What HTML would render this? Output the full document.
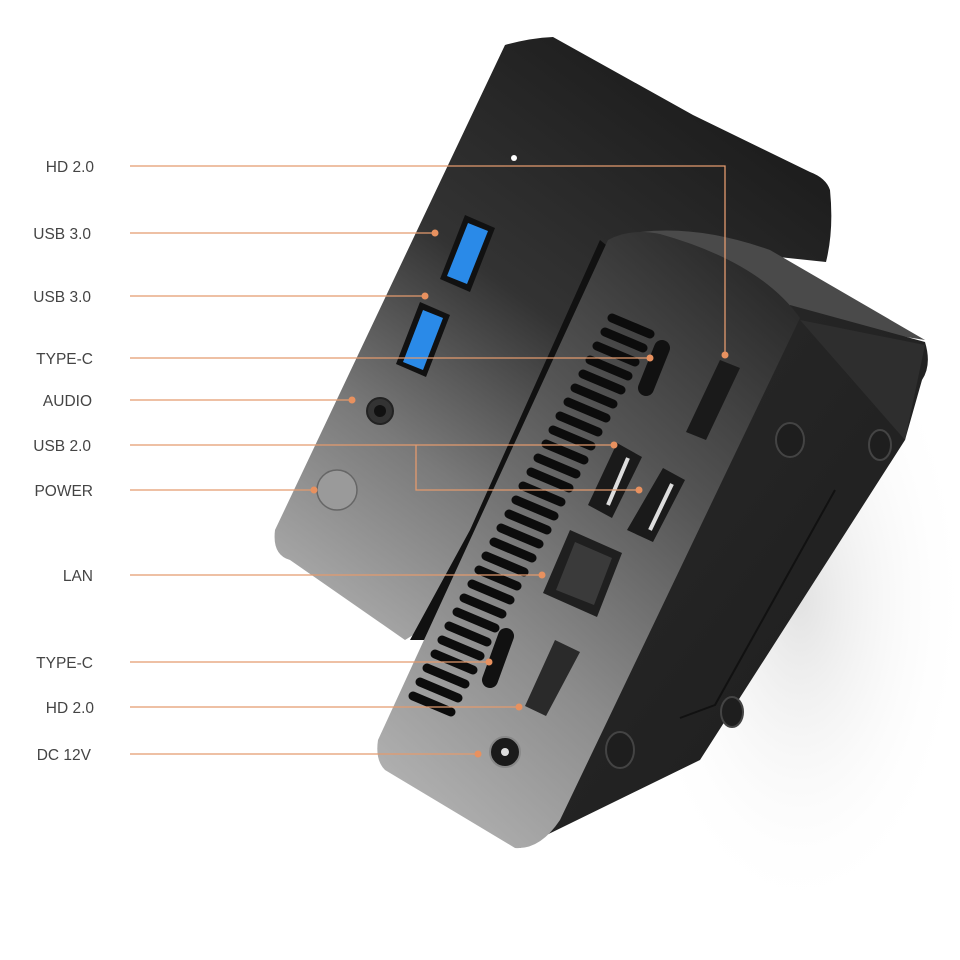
<!DOCTYPE html>
<html><head><meta charset="utf-8"><style>
html,body{margin:0;padding:0;background:#fff;width:960px;height:960px;overflow:hidden}
</style></head><body>
<svg width="960" height="960" viewBox="0 0 960 960" xmlns="http://www.w3.org/2000/svg">
<defs>
<linearGradient id="bk" x1="0.75" y1="0.05" x2="0.15" y2="0.95">
<stop offset="0" stop-color="#1c1c1c"/><stop offset="0.45" stop-color="#333"/><stop offset="0.75" stop-color="#7a7a7a"/><stop offset="1" stop-color="#a4a4a4"/></linearGradient>
<linearGradient id="fr" x1="0.8" y1="0" x2="0.2" y2="1">
<stop offset="0" stop-color="#2a2a2a"/><stop offset="0.35" stop-color="#555"/><stop offset="0.7" stop-color="#8c8c8c"/><stop offset="1" stop-color="#b0b0b0"/></linearGradient>
<linearGradient id="sd" x1="0" y1="0" x2="1" y2="1">
<stop offset="0" stop-color="#2a2a2a"/><stop offset="1" stop-color="#1c1c1c"/></linearGradient>
<radialGradient id="sh" cx="0.5" cy="0.5" r="0.5">
<stop offset="0" stop-color="#e2e2e2"/><stop offset="1" stop-color="#fff" stop-opacity="0"/></radialGradient>
</defs>
<ellipse cx="800" cy="600" rx="170" ry="320" fill="url(#sh)"/>
<!-- back device -->
<path d="M553,37 Q530,38 505,45 L275,530 Q272,555 290,560 L405,640 L470,600 L680,270 L760,255 L826,262 Q834,230 830,190 Q826,178 810,172 L693,115 Z" fill="url(#bk)"/>
<!-- dark band left of front device -->
<path d="M600,240 L470,530 L410,640 L440,640 L480,560 L612,250 Z" fill="#111"/>
<!-- front device top -->
<path d="M640,232 Q700,225 770,250 L925,340 L800,320 Q740,255 640,232 Z" fill="#4a4a4a"/>
<!-- right side -->
<path d="M790,305 L925,342 Q932,365 922,380 L905,440 L700,760 L520,848 L600,620 Z" fill="url(#sd)"/>
<path d="M800,320 L925,345 L905,440 Z" fill="#2e2e2e"/>
<path d="M835,490 L715,705 L680,718" stroke="#111" stroke-width="2" fill="none"/>
<!-- front face -->
<path d="M608,240 Q630,228 660,234 Q760,262 800,318 L560,820 Q540,850 515,848 L385,770 Q375,760 378,740 Z" fill="url(#fr)"/>
<!-- vents -->
<g stroke="#0c0c0c" stroke-width="9" stroke-linecap="round">
<line x1="612" y1="318" x2="650" y2="334"/><line x1="605" y1="332" x2="643" y2="348"/><line x1="597" y1="346" x2="635" y2="362"/><line x1="590" y1="360" x2="628" y2="376"/><line x1="583" y1="374" x2="621" y2="390"/><line x1="575" y1="388" x2="613" y2="404"/><line x1="568" y1="402" x2="606" y2="418"/><line x1="560" y1="416" x2="598" y2="432"/><line x1="553" y1="430" x2="591" y2="446"/><line x1="546" y1="444" x2="584" y2="460"/><line x1="538" y1="458" x2="576" y2="474"/><line x1="531" y1="472" x2="569" y2="488"/><line x1="523" y1="486" x2="561" y2="502"/><line x1="516" y1="500" x2="554" y2="516"/><line x1="509" y1="514" x2="547" y2="530"/><line x1="501" y1="528" x2="539" y2="544"/><line x1="494" y1="542" x2="532" y2="558"/><line x1="486" y1="556" x2="524" y2="572"/><line x1="479" y1="570" x2="517" y2="586"/><line x1="472" y1="584" x2="510" y2="600"/><line x1="464" y1="598" x2="502" y2="614"/><line x1="457" y1="612" x2="495" y2="628"/><line x1="449" y1="626" x2="487" y2="642"/><line x1="442" y1="640" x2="480" y2="656"/><line x1="435" y1="654" x2="473" y2="670"/><line x1="427" y1="668" x2="465" y2="684"/><line x1="420" y1="682" x2="458" y2="698"/><line x1="413" y1="696" x2="451" y2="712"/>
</g>
<!-- back ports -->
<polygon points="465,215 495,228 470,292 440,279" fill="#111"/><polygon points="468,223 488,231 467,284 447,276" fill="#2a8ae8"/>
<polygon points="420,302 450,315 426,377 396,364" fill="#111"/><polygon points="423,310 443,318 423,370 403,362" fill="#2a8ae8"/>
<circle cx="380" cy="411" r="13" fill="#333" stroke="#222" stroke-width="2"/><circle cx="380" cy="411" r="6" fill="#111"/>
<circle cx="337" cy="490" r="20" fill="#9a9a9a" stroke="#666" stroke-width="1.5"/>
<circle cx="514" cy="158" r="3" fill="#fff"/>
<!-- front ports -->
<line x1="662" y1="348" x2="646" y2="388" stroke="#111" stroke-width="16" stroke-linecap="round"/>
<polygon points="720,360 740,368 706,440 686,432" fill="#1a1a1a"/>
<polygon points="617,443 642,457 612,518 588,505" fill="#1a1a1a"/><line x1="628" y1="458" x2="608" y2="505" stroke="#ddd" stroke-width="4"/>
<polygon points="663,468 685,480 653,542 627,530" fill="#1a1a1a"/><line x1="672" y1="484" x2="650" y2="530" stroke="#ddd" stroke-width="4"/>
<polygon points="570,530 622,553 597,617 543,593" fill="#1f1f1f"/><polygon points="575,542 612,558 594,605 556,590" fill="#3a3a3a"/>
<line x1="506" y1="636" x2="490" y2="680" stroke="#111" stroke-width="16" stroke-linecap="round"/>
<polygon points="555,640 580,652 546,716 525,706" fill="#2a2a2a"/>
<circle cx="505" cy="752" r="15" fill="#1a1a1a" stroke="#888" stroke-width="2"/><circle cx="505" cy="752" r="4" fill="#ddd"/>
<!-- feet -->
<g fill="#1e1e1e" stroke="#444" stroke-width="2"><ellipse cx="790" cy="440" rx="14" ry="17"/><ellipse cx="880" cy="445" rx="11" ry="15"/><ellipse cx="732" cy="712" rx="11" ry="15"/><ellipse cx="620" cy="750" rx="14" ry="18"/></g>
<!-- leader lines -->
<g stroke="#e39a6e" stroke-width="1.3" fill="none">
<polyline points="130,166 725,166 725,355"/>
<line x1="130" y1="233" x2="435" y2="233"/>
<line x1="130" y1="296" x2="425" y2="296"/>
<line x1="130" y1="358" x2="650" y2="358"/>
<line x1="130" y1="400" x2="352" y2="400"/>
<line x1="130" y1="445" x2="614" y2="445"/>
<polyline points="416,445 416,490 639,490"/>
<line x1="130" y1="490" x2="314" y2="490"/>
<line x1="130" y1="575" x2="542" y2="575"/>
<line x1="130" y1="662" x2="489" y2="662"/>
<line x1="130" y1="707" x2="519" y2="707"/>
<line x1="130" y1="754" x2="478" y2="754"/>
</g>
<g fill="#e8915f">
<circle cx="725" cy="355" r="3.5"/><circle cx="435" cy="233" r="3.5"/><circle cx="425" cy="296" r="3.5"/><circle cx="650" cy="358" r="3.5"/><circle cx="352" cy="400" r="3.5"/><circle cx="614" cy="445" r="3.5"/><circle cx="639" cy="490" r="3.5"/><circle cx="314" cy="490" r="3.5"/><circle cx="542" cy="575" r="3.5"/><circle cx="489" cy="662" r="3.5"/><circle cx="519" cy="707" r="3.5"/><circle cx="478" cy="754" r="3.5"/>
</g>
<g font-family="Liberation Sans, sans-serif" font-size="15.5" fill="#444" text-anchor="end">
<text x="94" y="172">HD 2.0</text><text x="91" y="239">USB 3.0</text><text x="91" y="302">USB 3.0</text><text x="93" y="364">TYPE-C</text><text x="92" y="406">AUDIO</text><text x="91" y="451">USB 2.0</text><text x="93" y="496">POWER</text><text x="93" y="581">LAN</text><text x="93" y="668">TYPE-C</text><text x="94" y="713">HD 2.0</text><text x="91" y="760">DC 12V</text>
</g>
</svg>
</body></html>
